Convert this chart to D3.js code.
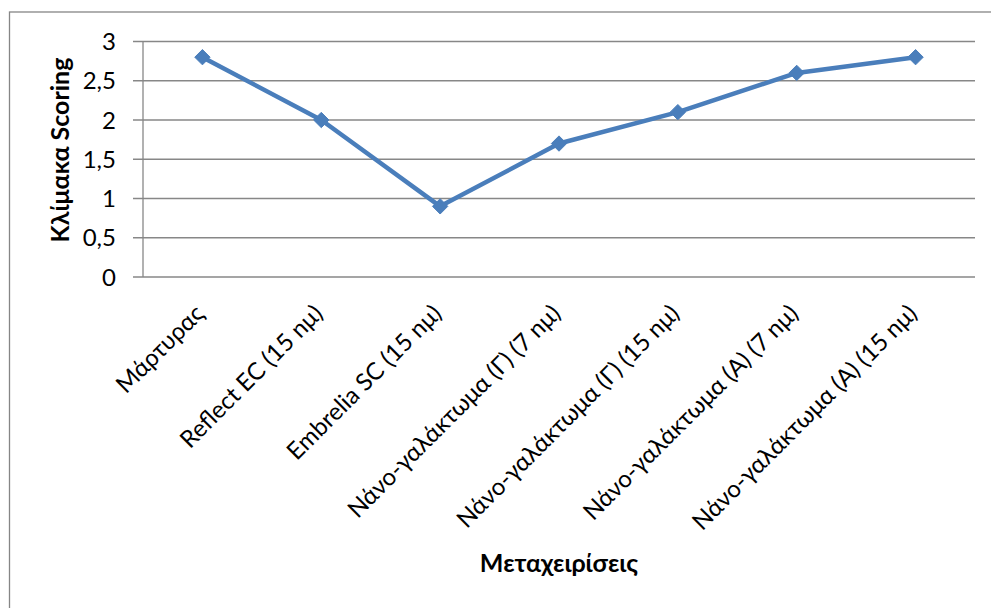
<!DOCTYPE html>
<html>
  <head>
    <meta charset="utf-8">
    <title>Κλίμακα Scoring</title>
    <script src="https://d3js.org/d3.v7.min.js" charset="utf-8"></script>
    <style>
      body { margin: 0; background: #fff; }
      text { font-family: Lato, "Open Sans", sans-serif; fill: #000; }
    </style>
  </head>
  <body>
    <script>
      var width = 991;
      var height = 608;

      // data
      var categories = ["Μάρτυρας", "Reflect EC (15 nμ)", "Embrelia SC (15 nμ)",
        "Νάνο-γαλάκτωμα (Γ) (7 nμ)", "Νάνο-γαλάκτωμα (Γ) (15 nμ)",
        "Νάνο-γαλάκτωμα (Α) (7 nμ)", "Νάνο-γαλάκτωμα (Α) (15 nμ)"];
      var scores = [2.8, 2.0, 0.9, 1.7, 2.1, 2.6, 2.8];
      var yTicks = [0, 0.5, 1, 1.5, 2, 2.5, 3];

      var margin = {left: 143, right: 16, top: 41.5, bottom: 331};

      var svg = d3.select("body")
          .append("svg")
          .attr("width", width)
          .attr("height", height);

      // chart border
      svg.append("rect")
        .attr("x", 9.5).attr("y", 12)
        .attr("width", 1000).attr("height", 700)
        .attr("fill", "none")
        .attr("stroke", "#868686")
        .attr("stroke-width", 1.3);

      var x = d3.scaleBand()
        .domain(categories)
        .range([margin.left, width - margin.right]);

      var y = d3.scaleLinear()
        .domain([0, 3])
        .range([height - margin.bottom, margin.top]);

      // gridlines
      svg.append("g")
        .selectAll("line")
        .data(yTicks)
        .enter()
        .append("line")
        .attr("x1", margin.left - 10)
        .attr("x2", width - margin.right)
        .attr("y1", function(d) { return y(d); })
        .attr("y2", function(d) { return y(d); })
        .attr("stroke", "#878787")
        .attr("stroke-width", 1.3);

      // y axis line
      svg.append("line")
        .attr("x1", margin.left).attr("x2", margin.left)
        .attr("y1", y(3)).attr("y2", y(0))
        .attr("stroke", "#878787")
        .attr("stroke-width", 1.3);

      // y tick labels
      svg.append("g")
        .selectAll("text")
        .data(yTicks)
        .enter()
        .append("text")
        .attr("x", margin.left - 27)
        .attr("y", function(d) { return y(d); })
        .attr("dy", "0.36em")
        .attr("text-anchor", "end")
        .style("font-size", "24px")
        .text(function(d) { return String(d).replace(".", ","); });

      // category labels
      svg.append("g")
        .selectAll("text")
        .data(categories)
        .enter()
        .append("text")
        .attr("transform", function(d) {
          return "translate(" + (x(d) + x.bandwidth() / 2 + 3) + "," + 315 + ") rotate(-45)";
        })
        .attr("text-anchor", "end")
        .style("font-size", "24px")
        .text(function(d) { return d; });

      // axis titles
      svg.append("text")
        .attr("transform", "translate(69,150) rotate(-90)")
        .attr("text-anchor", "middle")
        .style("font-size", "25px")
        .attr("font-weight", "bold")
        .text("Κλίμακα Scoring");

      svg.append("text")
        .attr("x", 559)
        .attr("y", 572)
        .attr("text-anchor", "middle")
        .style("font-size", "25px")
        .attr("font-weight", "bold")
        .text("Μεταχειρίσεις");

      // series line
      var line = d3.line()
        .x(function(d, i) { return x(categories[i]) + x.bandwidth() / 2; })
        .y(function(d) { return y(d); });

      svg.append("path")
        .datum(scores)
        .attr("d", line)
        .attr("fill", "none")
        .attr("stroke", "#4A7EBB")
        .attr("stroke-width", 4.5)
        .attr("stroke-linejoin", "round");

      // diamond markers
      svg.append("g")
        .selectAll("path")
        .data(scores)
        .enter()
        .append("path")
        .attr("d", d3.symbol().type(d3.symbolDiamond2).size(150))
        .attr("transform", function(d, i) {
          return "translate(" + (x(categories[i]) + x.bandwidth() / 2) + "," + y(d) + ")";
        })
        .attr("fill", "#4A7EBB")
        .attr("stroke", "#4A7EBB")
        .attr("stroke-width", 1);
    </script>
  </body>
</html>
